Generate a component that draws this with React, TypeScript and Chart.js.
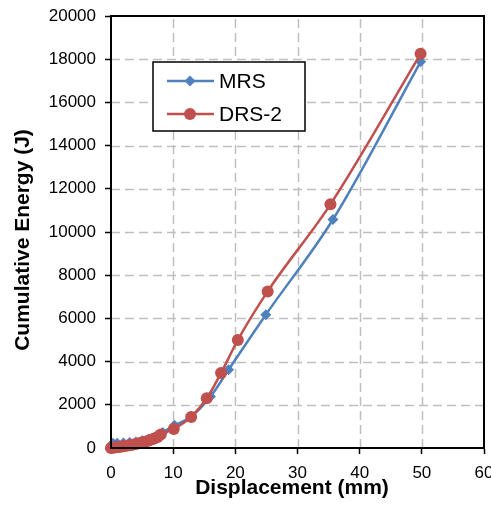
import React, { useEffect, useRef } from "react";
import { Chart, registerables } from "chart.js";

Chart.register(...registerables);

const mrsX = [0, 0.3, 1, 2, 3, 4, 5, 6, 7, 8.3, 10.2, 12.9, 16.0, 18.9, 24.9, 35.7, 49.8];
const mrsY = [0, 220, 220, 230, 250, 280, 330, 400, 490, 720, 1050, 1450, 2380, 3620, 6170, 10580, 17880];

const drsX = [0, 0.4, 0.8, 1.2, 1.6, 2.0, 2.5, 3.0, 3.5, 4.0, 4.5, 5.0, 5.5, 6.0, 6.5, 7.0, 7.5, 8.0, 10.1, 12.9, 15.4, 17.7, 20.4, 25.2, 35.3, 49.8];
const drsY = [0, 15, 30, 45, 60, 80, 100, 125, 150, 180, 215, 250, 290, 340, 390, 440, 510, 620, 880, 1440, 2300, 3470, 5000, 7250, 11280, 18250];

const seriesNames = ["MRS", "DRS-2"];
const xTitle = "Displacement (mm)";
const yTitle = "Cumulative Energy (J)";

const BLUE = "#4F81BD";
const RED = "#C0504D";
const FONT = "'Liberation Sans', Arial, sans-serif";

const dashedGrid = {
  id: "dashedGrid",
  beforeDatasetsDraw(chart: any) {
    const { ctx, chartArea, scales } = chart;
    ctx.save();
    ctx.strokeStyle = "#BFBFBF";
    ctx.lineWidth = 1.5;
    ctx.setLineDash([9, 5]);
    scales.x.ticks.forEach((t: any) => {
      const px = Math.round(scales.x.getPixelForValue(t.value)) + 0.5;
      if (px <= chartArea.left + 2 || px >= chartArea.right - 2) return;
      ctx.beginPath();
      ctx.moveTo(px, chartArea.bottom);
      ctx.lineTo(px, chartArea.top);
      ctx.stroke();
    });
    scales.y.ticks.forEach((t: any) => {
      const py = Math.round(scales.y.getPixelForValue(t.value)) + 0.5;
      if (py <= chartArea.top + 2 || py >= chartArea.bottom - 2) return;
      ctx.beginPath();
      ctx.moveTo(chartArea.left, py);
      ctx.lineTo(chartArea.right, py);
      ctx.stroke();
    });
    ctx.restore();
  },
};

const frameLegendTitles = {
  id: "frameLegendTitles",
  afterDraw(chart: any) {
    const { ctx, chartArea } = chart;
    ctx.save();
    ctx.setLineDash([]);
    ctx.strokeStyle = "#000";
    ctx.lineWidth = 2;
    ctx.strokeRect(chartArea.left, chartArea.top, chartArea.right - chartArea.left, chartArea.bottom - chartArea.top);

    // axis titles
    ctx.fillStyle = "#000";
    ctx.font = `bold 21px ${FONT}`;
    ctx.textAlign = "center";
    ctx.textBaseline = "alphabetic";
    ctx.fillText(xTitle, 292, 494);
    ctx.save();
    ctx.translate(29, 240);
    ctx.rotate(-Math.PI / 2);
    ctx.fillText(yTitle, 0, 0);
    ctx.restore();

    // legend
    const bx = 153, by = 62, bw = 152, bh = 69;
    ctx.fillStyle = "#fff";
    ctx.fillRect(bx, by, bw, bh);
    ctx.lineWidth = 1.5;
    ctx.strokeStyle = "#000";
    ctx.strokeRect(bx, by, bw, bh);
    const rows = [
      { name: seriesNames[0], color: BLUE, y: 81, shape: "diamond" },
      { name: seriesNames[1], color: RED, y: 114, shape: "circle" },
    ];
    rows.forEach((r) => {
      ctx.strokeStyle = r.color;
      ctx.lineWidth = 2.5;
      ctx.beginPath();
      ctx.moveTo(167, r.y);
      ctx.lineTo(214, r.y);
      ctx.stroke();
      ctx.fillStyle = r.color;
      ctx.beginPath();
      if (r.shape === "diamond") {
        ctx.moveTo(190, r.y - 5.5);
        ctx.lineTo(195.5, r.y);
        ctx.lineTo(190, r.y + 5.5);
        ctx.lineTo(184.5, r.y);
        ctx.closePath();
      } else {
        ctx.arc(190, r.y, 6, 0, Math.PI * 2);
      }
      ctx.fill();
      ctx.fillStyle = "#000";
      ctx.font = `21px ${FONT}`;
      ctx.textBaseline = "middle";
      ctx.textAlign = "left";
      ctx.fillText(r.name, 219, r.y + 1);
    });
    ctx.restore();
  },
};

export default function App() {
  const ref = useRef<HTMLCanvasElement>(null);
  useEffect(() => {
    document.body.style.margin = "0";
    const chart = new Chart(ref.current!, {
      type: "line",
      data: {
        datasets: [
          {
            label: seriesNames[0],
            data: mrsX.map((x, i) => ({ x, y: mrsY[i] })),
            borderColor: BLUE,
            backgroundColor: BLUE,
            borderWidth: 2.5,
            pointStyle: "rectRot",
            pointRadius: 5.5,
            pointBorderWidth: 0,
            cubicInterpolationMode: "monotone",
            order: 2,
          },
          {
            label: seriesNames[1],
            data: drsX.map((x, i) => ({ x, y: drsY[i] })),
            borderColor: RED,
            backgroundColor: RED,
            borderWidth: 2.5,
            pointStyle: "circle",
            pointRadius: 6,
            pointBorderWidth: 0,
            cubicInterpolationMode: "monotone",
            order: 1,
          },
        ],
      },
      options: {
        animation: false,
        responsive: false,
        clip: false,
        layout: { padding: { top: 16, right: 7, left: 0, bottom: 0 } },
        plugins: { legend: { display: false }, tooltip: { enabled: false } },
        scales: {
          x: {
            type: "linear",
            min: 0,
            max: 60,
            ticks: { stepSize: 10, color: "#000", font: { family: FONT, size: 17 }, padding: 9, maxRotation: 0, callback: (v: any) => String(v) },
            grid: { drawOnChartArea: false, color: "#000", tickColor: "#000", tickLength: 6, tickWidth: 1.5 },
            border: { color: "#000", width: 2 },
            title: { display: false, text: xTitle },
            afterFit: (s: any) => {
              s.height = 59;
              s.paddingLeft = 0;
              s.paddingRight = 0;
            },
          },
          y: {
            type: "linear",
            min: 0,
            max: 20000,
            ticks: { stepSize: 2000, color: "#000", font: { family: FONT, size: 17 }, padding: 9, callback: (v: any) => String(v) },
            grid: { drawOnChartArea: false, color: "#000", tickColor: "#000", tickLength: 6, tickWidth: 1.5 },
            border: { color: "#000", width: 2 },
            title: { display: false, text: yTitle },
            afterFit: (s: any) => {
              s.width = 111;
              s.paddingTop = 0;
              s.paddingBottom = 0;
            },
          },
        },
      },
      plugins: [dashedGrid, frameLegendTitles],
    } as any);
    return () => chart.destroy();
  }, []);
  return (
    <div style={{ position: "absolute", left: 0, top: 0, width: 491, height: 507 }}>
      <canvas ref={ref} width={491} height={507} />
    </div>
  );
}
